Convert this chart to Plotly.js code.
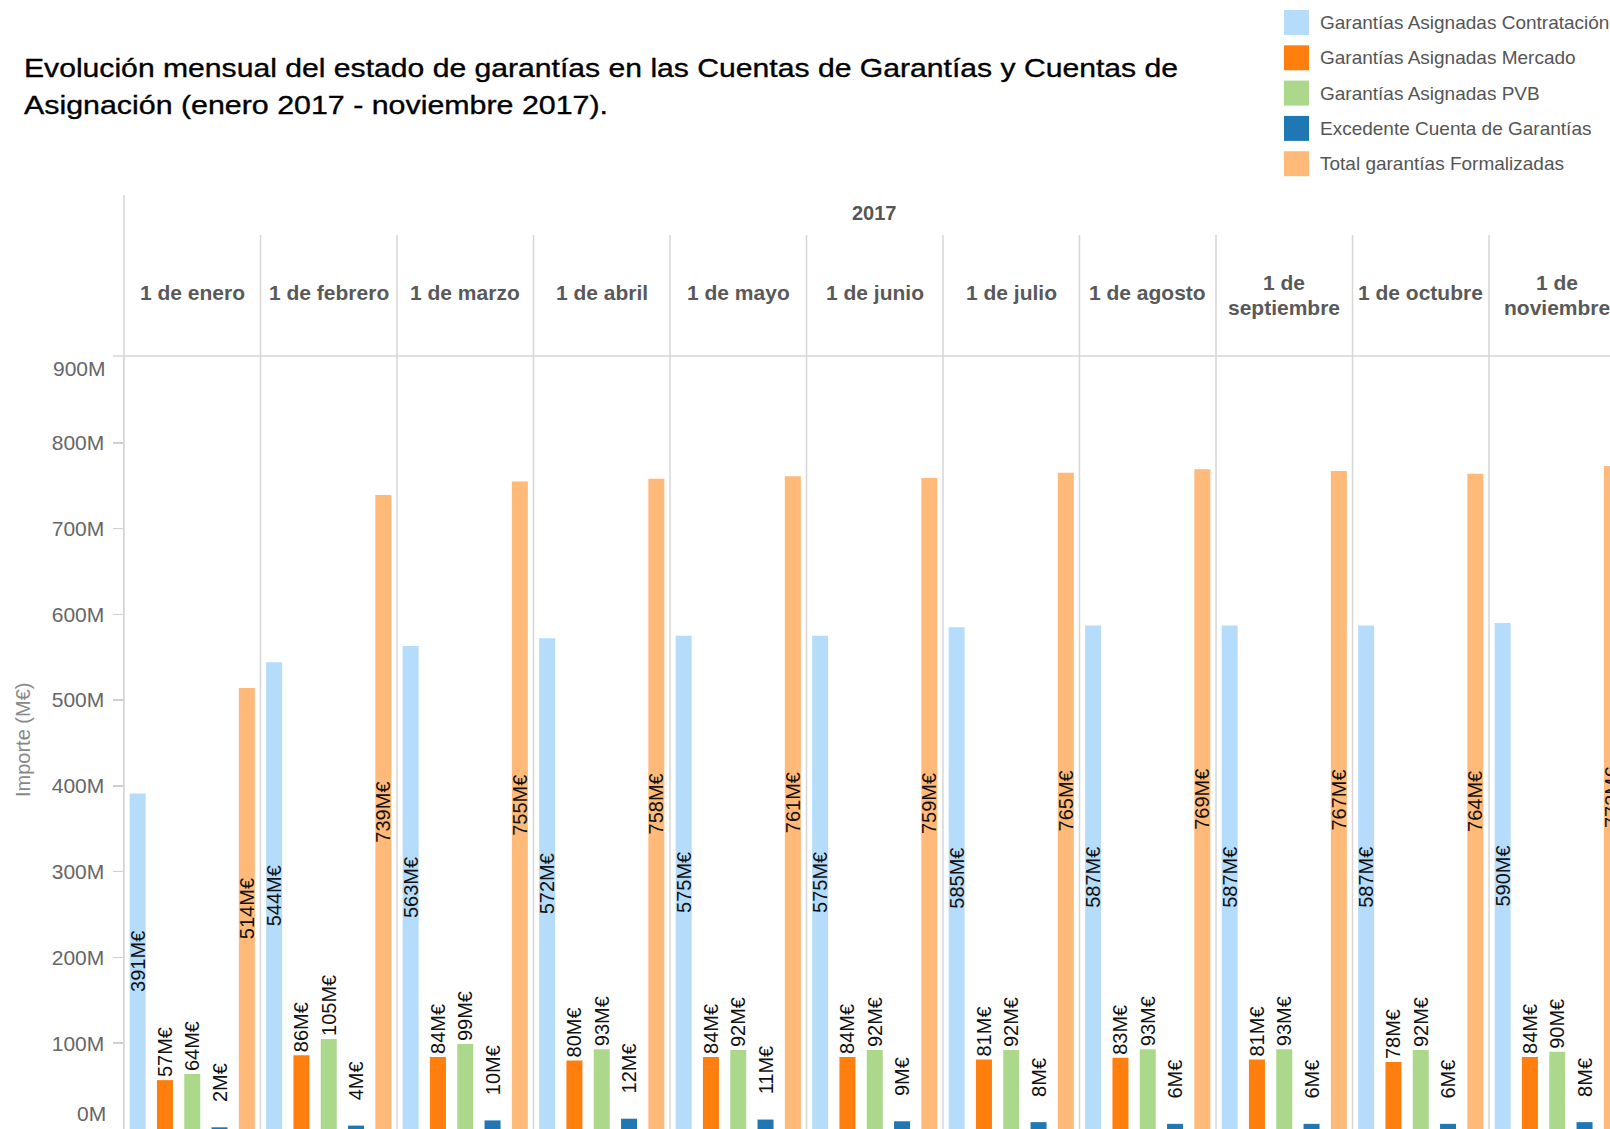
<!DOCTYPE html>
<html>
<head>
<meta charset="utf-8">
<script src="https://cdn.plot.ly/plotly-3.0.1.min.js"></script>
<style>
html, body { margin: 0; padding: 0; overflow: hidden; background: #fff; }
#chart { width: 1610px; height: 1129px; }
</style>
</head>
<body>
<div id="chart"></div>
<script>
// ---- data ----
const months = ['1 de enero', '1 de febrero', '1 de marzo', '1 de abril', '1 de mayo', '1 de junio',
  '1 de julio', '1 de agosto', '1 de septiembre', '1 de octubre', '1 de noviembre'];
const monthHeaderLines = [['1 de enero'], ['1 de febrero'], ['1 de marzo'], ['1 de abril'], ['1 de mayo'],
  ['1 de junio'], ['1 de julio'], ['1 de agosto'], ['1 de', 'septiembre'], ['1 de octubre'], ['1 de', 'noviembre']];
const yearLabel = '2017';
const seriesNames = ['Garantías Asignadas Contratación', 'Garantías Asignadas Mercado',
  'Garantías Asignadas PVB', 'Excedente Cuenta de Garantías', 'Total garantías Formalizadas'];
const contratacion = [391, 544, 563, 572, 575, 575, 585, 587, 587, 587, 590];
const mercado      = [57, 86, 84, 80, 84, 84, 81, 83, 81, 78, 84];
const pvb          = [64, 105, 99, 93, 92, 92, 92, 93, 93, 92, 90];
const excedente    = [2, 4, 10, 12, 11, 9, 8, 6, 6, 6, 8];
const total        = [514, 739, 755, 758, 761, 759, 765, 769, 767, 764, 773];
const tickVals   = [100, 200, 300, 400, 500, 600, 700, 800];
const tickTexts  = ['100M', '200M', '300M', '400M', '500M', '600M', '700M', '800M'];
const edgeTicks  = ['0M', '900M'];
const titleLines = ['Evolución mensual del estado de garantías en las Cuentas de Garantías y Cuentas de',
  'Asignación (enero 2017 - noviembre 2017).'];
const yTitle = 'Importe (M€)';

// ---- styles ----
const colors = ['#b6dcfb', '#ff7f0e', '#acd88c', '#1f77b4', '#ffb978'];
const W = 1610, H = 1129;
const L = 124, T = 357;
const plotW = W - L, plotH = H - T;
const colW = 136.5;
const xr = [-0.5, -0.5 + plotW / colW];
const X = px => (px - L) / plotW;
const Y = py => (H - py) / plotH;
const XC = k => (k - xr[0]) / (xr[1] - xr[0]);   // category position -> paper
const FONT = 'Liberation Sans, Arial, sans-serif';
const titleWidths = [1154, 584];
const labelLift = ['', '', '', '\u00a0\u00a0\u00a0\u00a0', ''];  // extra offset of the outside labels per series

const allSeries = [contratacion, mercado, pvb, excedente, total];
const traces = allSeries.map((vals, i) => ({
  type: 'bar',
  name: seriesNames[i],
  x: months,
  y: vals,
  marker: { color: colors[i], line: { width: 0 } },
  text: vals.map(v => labelLift[i] + v + 'M€'),
  textposition: vals.map(v => v > 300 ? 'inside' : 'outside'),
  insidetextanchor: 'middle',
  textangle: -90,
  constraintext: 'none',
  textfont: { family: FONT, size: 20, color: '#111' },
  cliponaxis: true,
  hoverinfo: 'x+y+name',
  showlegend: false
}));

const lineColor = '#d6d6d6';
const shapes = [];
shapes.push({ type: 'line', xref: 'paper', yref: 'paper', x0: 0, x1: 0, y0: Y(195), y1: Y(H),
  line: { color: lineColor, width: 1.5 } });
for (let k = 1; k < months.length; k++) {
  shapes.push({ type: 'line', xref: 'paper', yref: 'paper', x0: XC(k - 0.5), x1: XC(k - 0.5),
    y0: Y(235), y1: Y(H), line: { color: lineColor, width: 1.5 } });
}
shapes.push({ type: 'line', xref: 'paper', yref: 'paper', x0: X(113), x1: X(W), y0: Y(356), y1: Y(356),
  line: { color: lineColor, width: 1.5 } });

const annotations = [];
titleLines.forEach((t, i) => annotations.push({
  xref: 'paper', yref: 'paper', x: X(22), y: Y(68 + 37 * i), xanchor: 'left', yanchor: 'middle', align: 'left',
  text: t, showarrow: false, font: { family: FONT, size: 26, color: '#000' }
}));
annotations.push({ xref: 'paper', yref: 'paper', x: XC((months.length - 1) / 2), y: Y(213),
  xanchor: 'center', yanchor: 'middle', text: '<b>' + yearLabel + '</b>', showarrow: false,
  font: { family: FONT, size: 20, color: '#555' } });
monthHeaderLines.forEach((lines, k) => {
  lines.forEach((ln, j) => {
    const yc = lines.length === 1 ? 293 : (282 + 25 * j);
    annotations.push({ xref: 'x', yref: 'paper', x: months[k], y: Y(yc), xanchor: 'center', yanchor: 'middle',
      text: '<b>' + ln + '</b>', showarrow: false,
      font: { family: FONT, size: 21, color: '#595959' } });
  });
});
annotations.push({ xref: 'paper', yref: 'paper', x: X(108), y: Y(1113), xanchor: 'right', yanchor: 'middle',
  text: edgeTicks[0], showarrow: false, font: { family: FONT, size: 21, color: '#666' } });
annotations.push({ xref: 'paper', yref: 'paper', x: X(108), y: Y(368), xanchor: 'right', yanchor: 'middle',
  text: edgeTicks[1], showarrow: false, font: { family: FONT, size: 21, color: '#666' } });
annotations.push({ xref: 'paper', yref: 'paper', x: X(23), y: Y(740), xanchor: 'center', yanchor: 'middle',
  text: yTitle, textangle: -90, showarrow: false,
  font: { family: FONT, size: 20, color: '#888' } });
seriesNames.forEach((nm, i) => {
  const top = 10 + 35.3 * i;
  shapes.push({ type: 'rect', xref: 'paper', yref: 'paper', x0: X(1284), x1: X(1309), y0: Y(top), y1: Y(top + 25),
    fillcolor: colors[i], line: { width: 0 } });
  annotations.push({ xref: 'paper', yref: 'paper', x: X(1318), y: Y(top + 12.5), xanchor: 'left', yanchor: 'middle',
    text: nm, showarrow: false, font: { family: FONT, size: 19, color: '#555' } });
});

const layout = {
  width: W, height: H,
  margin: { l: L, r: 0, t: T, b: 0, pad: 0 },
  paper_bgcolor: '#fff', plot_bgcolor: '#fff',
  barmode: 'group', bargap: 0, bargroupgap: 0.414,
  showlegend: false,
  xaxis: { type: 'category', range: xr, showticklabels: false, ticks: '', showgrid: false,
    zeroline: false, showline: false, fixedrange: true },
  yaxis: { range: [0, 900], tickvals: tickVals, ticktext: tickTexts, ticks: 'outside', ticklen: 10,
    tickcolor: '#cfcfcf', tickwidth: 1.5, showline: true, linecolor: lineColor, linewidth: 1.5,
    showgrid: false, zeroline: false, ticklabelstandoff: 4,
    tickfont: { family: FONT, size: 21, color: '#666' }, fixedrange: true },
  shapes: shapes,
  annotations: annotations
};

Plotly.newPlot('chart', traces, layout, { displayModeBar: false, staticPlot: true }).then(gd => {
  // widen the title lines (left-anchored) to the original's measured text widths
  gd.querySelectorAll('.annotation-text').forEach(el => {
    const idx = titleLines.indexOf(el.textContent);
    if (idx >= 0) {
      const bb = el.getBBox();
      el.setAttribute('text-anchor', 'start');
      el.setAttribute('x', bb.x);
      el.setAttribute('textLength', titleWidths[idx]);
      el.setAttribute('lengthAdjust', 'spacingAndGlyphs');
      el.style.stroke = '#000';
      el.style.strokeWidth = '0.35px';
    }
  });
});
</script>
</body>
</html>
